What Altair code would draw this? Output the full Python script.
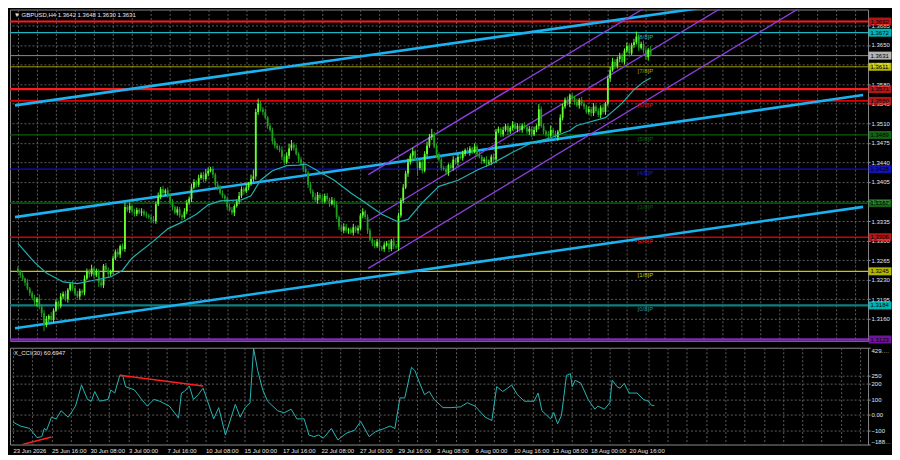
import altair as alt
import pandas as pd

# ---------------- data (prices in pips above 1.3000) ----------------
BASE = 1.3
first_open = 250
closes = [
    245, 238, 232, 225, 214, 206, 198, 190, 196, 182, 170, 150, 160, 165, 158, 175, 190, 183, 200, 205,
    195, 212, 222, 215, 205, 200, 210, 207, 232, 245, 240, 250, 238, 245, 225, 220, 255, 248, 240, 245,
    268, 280, 275, 290, 285, 360, 355, 362, 352, 348, 355, 350, 352, 347, 345, 342, 338, 335, 365, 378,
    392, 385, 390, 380, 368, 360, 350, 356, 345, 342, 352, 368, 375, 395, 405, 400, 412, 418, 410, 420,
    425, 428, 418, 400, 395, 385, 380, 375, 360, 355, 350, 362, 370, 380, 392, 388, 395, 402, 410, 415,
    530, 545, 535, 530, 520, 505, 498, 478, 470, 465, 462, 450, 440, 452, 465, 472, 466, 455, 445, 438,
    428, 422, 400, 388, 378, 372, 382, 376, 370, 380, 374, 366, 372, 364, 342, 325, 318, 325, 318, 320,
    314, 324, 318, 322, 345, 352, 342, 318, 302, 295, 290, 298, 288, 285, 292, 295, 285, 300, 290, 288,
    345, 372, 395, 420, 440, 452, 460, 445, 430, 440, 425, 455, 470, 485, 490, 468, 455, 445, 430, 428,
    422, 435, 430, 445, 440, 450, 448, 455, 462, 458, 465, 460, 468, 455, 450, 442, 445, 438, 440, 450,
    445, 495, 500, 490, 498, 505, 495, 502, 508, 500, 505, 498, 506, 503, 495, 500, 490, 498, 505, 535,
    505, 495, 490, 488, 498, 492, 485, 495, 520, 540, 552, 545, 560, 555, 548, 542, 552, 545, 540, 530,
    535, 528, 540, 532, 525, 538, 530, 545, 590, 605, 620, 612, 625, 630, 620, 640, 648, 635, 650, 655,
    665, 645, 652, 640, 628, 642, 631,
]
wick_hi = [
    4, 3, 5, 2, 6, 3, 4, 5, 3, 8, 4, 6, 5, 3, 7, 4, 5, 3, 6, 4,
    5, 3, 4, 6, 3, 5, 4, 3, 6, 5, 4, 7, 3, 5, 4, 6, 3, 5, 4, 3,
    5, 4, 6, 3, 5, 8, 4, 6, 3, 5, 4, 3, 6, 4, 5, 3, 4, 6, 5, 8,
    4, 6, 3, 5, 4, 6, 3, 5, 4, 3, 6, 5, 4, 7, 5, 3, 6, 4, 5, 8,
    6, 4, 5, 3, 6, 4, 5, 3, 4, 6, 5, 3, 4, 7, 5, 4, 6, 3, 8, 12,
    6, 9, 5, 4, 6, 3, 5, 4, 6, 3, 5, 7, 4, 6, 8, 8, 4, 6, 3, 5,
    4, 6, 3, 5, 4, 7, 5, 3, 6, 4, 5, 3, 6, 4, 5, 3, 4, 6, 5, 3,
    4, 6, 3, 5, 4, 6, 3, 5, 4, 3, 6, 5, 4, 3, 5, 4, 6, 3, 5, 4,
    5, 4, 6, 5, 7, 4, 6, 3, 5, 4, 6, 5, 7, 6, 10, 4, 5, 3, 6, 4,
    5, 3, 4, 6, 3, 5, 4, 6, 3, 5, 4, 3, 6, 4, 5, 3, 4, 6, 5, 4,
    6, 5, 4, 3, 6, 4, 5, 3, 6, 4, 5, 3, 4, 6, 3, 5, 4, 6, 3, 9,
    5, 4, 3, 6, 8, 4, 5, 3, 6, 5, 4, 6, 3, 5, 4, 6, 3, 5, 4, 3,
    5, 4, 6, 3, 5, 4, 6, 3, 5, 6, 7, 5, 4, 6, 5, 4, 6, 5, 4, 6,
    9, 5, 4, 6, 5, 3, 6,
]
wick_lo = [
    3, 5, 4, 6, 3, 5, 4, 6, 8, 5, 7, 12, 5, 6, 4, 5, 3, 6, 4, 5,
    4, 6, 3, 5, 4, 3, 6, 4, 5, 3, 6, 4, 5, 3, 8, 4, 5, 3, 6, 4,
    5, 3, 4, 6, 3, 5, 4, 6, 3, 5, 4, 3, 6, 4, 5, 3, 6, 4, 5, 3,
    4, 6, 5, 3, 4, 6, 3, 5, 4, 6, 3, 5, 4, 6, 3, 5, 4, 3, 6, 4,
    5, 3, 6, 4, 5, 3, 4, 6, 5, 3, 4, 6, 3, 5, 4, 6, 3, 5, 4, 5,
    6, 5, 4, 6, 3, 5, 4, 6, 5, 3, 4, 6, 5, 3, 6, 4, 5, 3, 6, 4,
    5, 3, 6, 4, 5, 3, 6, 4, 5, 3, 4, 6, 3, 5, 4, 6, 3, 5, 4, 6,
    3, 5, 4, 6, 3, 5, 4, 6, 3, 5, 4, 3, 6, 4, 5, 3, 6, 4, 5, 3,
    6, 4, 5, 3, 6, 4, 5, 3, 14, 4, 5, 3, 6, 4, 5, 3, 6, 4, 5, 3,
    4, 6, 3, 5, 4, 6, 3, 5, 4, 3, 6, 5, 4, 6, 3, 5, 4, 6, 3, 5,
    4, 6, 3, 5, 4, 3, 6, 4, 5, 3, 6, 4, 5, 3, 4, 6, 5, 3, 4, 6,
    3, 5, 4, 6, 3, 5, 4, 6, 3, 5, 4, 3, 6, 4, 5, 3, 6, 4, 5, 3,
    4, 6, 5, 3, 4, 6, 3, 5, 4, 6, 3, 5, 4, 6, 3, 5, 4, 6, 3, 5,
    4, 6, 3, 5, 4, 6, 1,
]

# moving average (bar index, pips above 1.3000)
ma_bar = [0, 7, 12, 19, 25, 33, 39, 44, 48, 57, 63, 69, 75, 80, 85, 94, 98, 102, 107, 113, 118, 121,
          126, 133, 140, 145, 153, 160, 164, 170, 177, 185, 194, 199, 208, 216, 224, 232, 235, 247,
          254, 259, 263, 266]
ma_val = [295, 261, 242, 226, 223, 230, 235, 247, 269, 299, 321, 333, 347, 364, 371, 373, 380, 408, 425,
          434, 435, 437, 425, 408, 385, 371, 347, 333, 338, 368, 397, 408, 428, 437, 458, 475, 484, 497,
          506, 520, 546, 570, 584, 591]

# CCI(30)
cci_bar = [0, 3, 7, 10, 12, 13, 14, 16, 18, 20, 23, 26, 28.5, 31, 32.6, 34, 36, 39.5, 40.7, 42.3, 44.4,
           45.6, 46.8, 50.5, 53, 55.8, 58.6, 61, 65, 68.8, 70, 71.2, 73.3, 75, 77, 79, 80.2, 83.4, 85.5,
           88.3, 92.4, 94.4, 96.5, 98.5, 100, 101.7, 103.8, 105.8, 110, 112.7, 115.6, 118, 121, 123, 125,
           127, 129, 132.3, 135, 138.4, 142, 144.5, 148, 150.6, 154.3, 156.7, 158.7, 160.8, 162.8, 165.6,
           167, 169, 171, 173, 175, 178.7, 182, 186, 188.8, 192, 196.2, 199, 201, 203.5, 205.5, 207.2,
           209.6, 212.5, 216.5, 218.2, 219.8, 223.4, 224.7, 226.3, 227.9, 230, 231.6, 232.4, 233.6, 236,
           239, 241.8, 243, 245.8, 248, 249, 251, 252.3, 254, 256, 259.3, 262, 264, 265.3, 266.5]
cci_val = [-45, -70, -86, -144, -138, -86, -97, -14, -25, 27, -14, 57, 191, 99, 88, 150, 88, 99, 160, 140,
           253, 253, 181, 160, 109, 57, 99, 88, 57, -20, 140, 150, 185, 99, 130, 171, 119, -25, 47, -128,
           68, -14, 47, 78, 425, 284, 160, 88, 27, 14, 37, -25, -25, -128, -138, -128, -148, -86, -159,
           -117, -97, -41, -138, -107, -86, -70, -86, 109, 109, 304, 284, 202, 130, 150, 99, 47, 47, 52,
           78, 57, -14, -35, 181, 150, 171, 191, 130, 88, 88, 140, 27, -25, 16, -56, -4, 253, 264, 181,
           222, 202, 99, 37, 57, 37, 78, 222, 181, 171, 202, 140, 140, 99, 88, 62, 60.7]

date_labels = ["23 Jun 2026", "25 Jun 16:00", "30 Jun 08:00", "3 Jul 00:00", "7 Jul 16:00",
               "10 Jul 08:00", "15 Jul 00:00", "17 Jul 16:00", "22 Jul 08:00", "27 Jul 00:00",
               "29 Jul 16:00", "3 Aug 08:00", "6 Aug 00:00", "10 Aug 16:00", "13 Aug 08:00",
               "18 Aug 00:00", "20 Aug 16:00"]
price_ticks = [1.3160, 1.3195, 1.3230, 1.3265, 1.3300, 1.3335, 1.3370, 1.3405, 1.3440, 1.3475,
               1.3510, 1.3545, 1.3580, 1.3615, 1.3650, 1.3685]
cci_ticks = [-188.3346, -100, 0, 100, 200, 250, 429.1136]

level_price = [1.3692, 1.3672, 1.3631, 1.3611, 1.3571, 1.3550, 1.3489, 1.3428, 1.3367, 1.3306,
               1.3245, 1.3184, 1.3123]
level_line_color = ["#ff1a1a", "#1fb3c0", "#8c8c8c", "#9b9b00", "#ff1a1a", "#e00000", "#0b5e0b",
                    "#1010c8", "#0a4f0a", "#d40000", "#c8c800", "#0e7f80", "#7c28b8"]
level_width = [2.2, 1.3, 1, 1, 2.2, 1.6, 1.2, 1.2, 1.6, 1.3, 1.3, 2.2, 2.5]
level_box_color = ["#ff2020", "#00ffff", "#ffffff", "#ffff00", "#ff2020", "#ff2020", "#1e8c1e",
                   "#1a1aff", "#1e8c1e", "#ff2020", "#ffff00", "#00ffff", "#9d20d6"]

murray_text = ["[8/8]P", "[7/8]P", "[6/8]P", "[5/8]P", "[4/8]P", "[3/8]P", "[2/8]P", "[1/8]P", "[0/8]P"]
murray_price = [1.3672, 1.3611, 1.3550, 1.3489, 1.3428, 1.3367, 1.3306, 1.3245, 1.3184]
murray_color = ["#2ab5c5", "#a8a800", "#e01010", "#0a6a0a", "#1a1ae0", "#0a5a0a", "#e01010",
                "#c8c800", "#1a9aa0"]
murray_bar = 260.5

trend_bar0 = [-1.22, -1.22, -1.22, 147.3, 147.3, 147.3]
trend_p0 = [1.35419, 1.33420, 1.31432, 1.34180, 1.33350, 1.32504]
trend_bar1 = [355.3, 355.3, 355.3, 355.3, 355.3, 355.3]
trend_p1 = [1.37575, 1.35604, 1.33604, 1.39523, 1.38693, 1.37847]
trend_color = ["#1ab2f0", "#1ab2f0", "#1ab2f0", "#8f3fe0", "#8f3fe0", "#8f3fe0"]
trend_width = [2.6, 2.6, 2.6, 1.3, 1.3, 1.3]

div_bar0 = [44.4, 4]
div_v0 = [253, -188]
div_bar1 = [79, 16]
div_v1 = [185, -140]

title_text = "\u25bc GBPUSD,H4  1.3642 1.3648 1.3630 1.3631"
cci_text = "X_CCI(30) 60.6947"

# ---------------- styling ----------------
FONT = "Liberation Sans"
GRID = "#5c5c5c"
BULL = "#66ff33"
BEAR = "#1f9f1f"
W, H_TOP, H_CCI = 860, 332, 97

X_SCALE = alt.Scale(domain=[-1.22, 355.3], nice=False, zero=False)
P_SCALE = alt.Scale(domain=[1.31208, 1.37135], nice=False, zero=False)
C_SCALE = alt.Scale(domain=[-188.3346, 429.1136], nice=False, zero=False)
grid_x_vals = list(range(0, 353, 8))

# ---------------- tables ----------------
n = min(len(closes), len(wick_hi), len(wick_lo))
rows = []
prev = first_open
for i in range(n):
    c = closes[i]
    o = prev
    rows.append(dict(i=i, o=BASE + o / 1e4, c=BASE + c / 1e4,
                     h=BASE + (max(o, c) + wick_hi[i]) / 1e4,
                     l=BASE + (min(o, c) - wick_lo[i]) / 1e4,
                     col=BULL if c >= o else BEAR))
    prev = c
candles = pd.DataFrame(rows)

ma_df = pd.DataFrame({"bar": ma_bar, "p": [BASE + v / 1e4 for v in ma_val]})
cci_df = pd.DataFrame({"bar": cci_bar[:len(cci_val)], "v": cci_val[:len(cci_bar)]})
lvl_df = pd.DataFrame({"price": level_price, "lc": level_line_color, "w": level_width,
                       "bc": level_box_color, "lbl": [f"{p:.4f}" for p in level_price]})
mur_df = pd.DataFrame({"price": murray_price, "t": murray_text, "col": murray_color,
                       "bar": [murray_bar] * len(murray_price)})
trend_df = pd.DataFrame({"b0": trend_bar0, "p0": trend_p0, "b1": trend_bar1, "p1": trend_p1,
                         "col": trend_color, "w": trend_width})
div_df = pd.DataFrame({"b0": div_bar0, "v0": div_v0, "b1": div_bar1, "v1": div_v1})

# ---------------- axes ----------------
x_axis_top = alt.Axis(values=grid_x_vals, labels=False, ticks=False, domain=False, grid=True,
                      gridColor=GRID, gridDash=[2, 2], title=None)
y_axis_price = alt.Axis(orient="right", values=price_ticks, format=".4f", labelFontSize=6,
                        labelColor="#e6e6e6", labelFont=FONT, tickSize=2, tickColor="#9a9a9a",
                        labelPadding=1, domain=False, grid=True, gridColor=GRID, gridDash=[2, 2],
                        title=None, labelOverlap=False, labelLimit=20)
labels_js = "[" + ",".join("'" + s + "'" for s in date_labels) + "]"
x_axis_bottom = alt.Axis(values=grid_x_vals,
                         labelExpr="datum.value % 16 === 0 ? " + labels_js + "[datum.value / 16] : ''",
                         labelAlign="left", labelFontSize=6, labelColor="#e6e6e6", labelFont=FONT,
                         tickSize=0, domain=False, grid=True, gridColor=GRID, gridDash=[2, 2],
                         labelPadding=3, labelOverlap=False, labelFlush=False, title=None)
y_axis_cci = alt.Axis(orient="right", values=cci_ticks,
                      labelExpr="datum.value === 0 ? '0.00' : ((datum.value > 300 || datum.value < -150) ? format(datum.value, '.4f') : format(datum.value, 'd'))",
                      labelFlush=True, labelFontSize=6, labelColor="#e6e6e6", labelFont=FONT,
                      tickSize=2, tickColor="#9a9a9a", labelPadding=1, domain=False, grid=True,
                      gridColor=GRID, gridDash=[2, 2],
                      gridOpacity={"condition": {"test": "datum.value > 300 || datum.value < -150", "value": 0}, "value": 1},
                      title=None, labelOverlap=False, labelLimit=20)


def px(f):
    return alt.X(f, type="quantitative", scale=X_SCALE, axis=x_axis_top)


def py(f):
    return alt.Y(f, type="quantitative", scale=P_SCALE, axis=y_axis_price)


def cx(f):
    return alt.X(f, type="quantitative", scale=X_SCALE, axis=x_axis_bottom)


def cy(f):
    return alt.Y(f, type="quantitative", scale=C_SCALE, axis=y_axis_cci)


# ---------------- price panel ----------------
levels = alt.Chart(lvl_df).mark_rule().encode(
    y=py("price"), color=alt.Color("lc:N", scale=None), strokeWidth=alt.StrokeWidth("w:Q", scale=None))

wicks = alt.Chart(candles).mark_rule(strokeWidth=1).encode(
    x=px("i"), y=py("l"), y2="h", color=alt.Color("col:N", scale=None))
bodies = alt.Chart(candles).mark_bar(size=1.8).encode(
    x=px("i"), y=py("o"), y2="c", color=alt.Color("col:N", scale=None))

ma_line = alt.Chart(ma_df).mark_line(color="#22b0b0", strokeWidth=1.2, clip=True).encode(
    x=px("bar"), y=py("p"))

trends = alt.Chart(trend_df).mark_rule(clip=True).encode(
    x=px("b0"), x2="b1", y=py("p0"), y2="p1",
    color=alt.Color("col:N", scale=None), strokeWidth=alt.StrokeWidth("w:Q", scale=None))

murray = alt.Chart(mur_df).mark_text(align="left", baseline="top", dy=1, fontSize=6, font=FONT).encode(
    x=px("bar"), y=py("price"), text="t:N", color=alt.Color("col:N", scale=None))

boxes = alt.Chart(lvl_df).mark_tick(orient="horizontal", size=23, thickness=8).encode(
    x=alt.value(W + 12), y=py("price"), color=alt.Color("bc:N", scale=None))
box_text = alt.Chart(lvl_df).mark_text(align="left", baseline="middle", fontSize=6, font=FONT,
                                       color="#000000", limit=20).encode(
    x=alt.value(W + 2.5), y=py("price"), text="lbl:N")

title = alt.Chart(pd.DataFrame({"t": [title_text]})).mark_text(
    align="left", baseline="middle", fontSize=6, font=FONT, color="#e8e8e8").encode(
    x=alt.value(4), y=alt.value(6), text="t:N")

top = alt.layer(levels, trends, wicks, bodies, ma_line, murray, boxes, box_text, title).properties(
    width=W, height=H_TOP)

# ---------------- CCI panel ----------------
cci_line = alt.Chart(cci_df).mark_line(color="#26b5b5", strokeWidth=1, clip=True).encode(
    x=cx("bar"), y=cy("v"))
div_lines = alt.Chart(div_df).mark_rule(color="#ff2020", strokeWidth=1.5, clip=True).encode(
    x=cx("b0"), x2="b1", y=cy("v0"), y2="v1")
cci_title = alt.Chart(pd.DataFrame({"t": [cci_text]})).mark_text(
    align="left", baseline="middle", fontSize=6, font=FONT, color="#e8e8e8").encode(
    x=alt.value(4), y=alt.value(5), text="t:N")

bottom = alt.layer(cci_line, div_lines, cci_title).properties(width=W, height=H_CCI)

chart = alt.vconcat(top, bottom, spacing=2).properties(
    padding=0,
    background="#000000",
).configure_view(stroke="#8a8a8a", strokeWidth=1)

chart.save("out.html", embed_options={"renderer": "svg", "actions": False})
